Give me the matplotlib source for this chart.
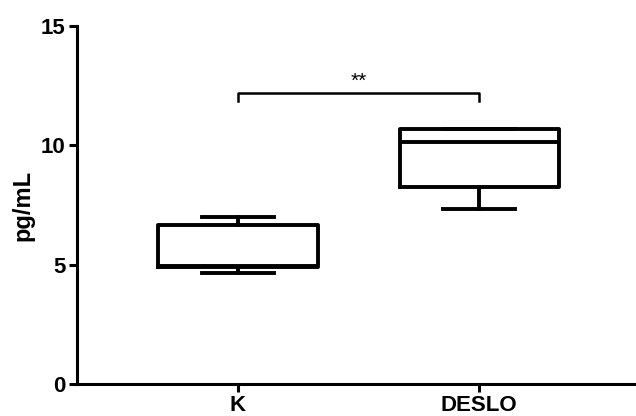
import matplotlib.pyplot as plt

plt.rcParams['font.family'] = ['Liberation Sans', 'DejaVu Sans']

groups = ["K", "DESLO"]
whis_low = [4.66, 7.34]
q1 = [4.89, 8.27]
medians = [4.93, 10.15]
q3 = [6.67, 10.68]
whis_high = [7.01, 10.68]
sig_label = "**"
sig_y = 12.2
sig_drop = 0.33
y_ticks = [0, 5, 10, 15]

stats = []
for i, g in enumerate(groups):
    stats.append({"label": g, "whislo": whis_low[i], "q1": q1[i], "med": medians[i],
                  "q3": q3[i], "whishi": whis_high[i], "fliers": []})

fig = plt.figure(figsize=(6.36, 4.16), dpi=100)
ax = fig.add_axes([0.121, 0.0769, 0.879, 0.8606])

lw = 2.8
ax.bxp(stats, positions=[0, 1], widths=0.66, capwidths=0.3, showfliers=False,
       boxprops=dict(color="black", linewidth=lw),
       medianprops=dict(color="black", linewidth=lw),
       whiskerprops=dict(color="black", linewidth=lw),
       capprops=dict(color="black", linewidth=lw))

# significance bracket
ax.plot([0, 0, 1, 1], [sig_y - sig_drop, sig_y, sig_y, sig_y - sig_drop], color="black", lw=1.8)
ax.text(0.5, sig_y + 0.08, sig_label, ha="center", va="bottom", fontsize=15)

ax.set_xlim(-0.668, 1.65)
ax.set_ylim(0, 15)
ax.set_yticks(y_ticks)
ax.set_xticks([0, 1])
ax.set_xticklabels(groups)
ax.spines["top"].set_visible(False)
ax.spines["right"].set_visible(False)
for s in ["left", "bottom"]:
    ax.spines[s].set_linewidth(2.2)
ax.tick_params(axis="both", length=6, width=2.2, labelsize=16)
ax.tick_params(axis="x", pad=2)
ax.tick_params(axis="y", pad=2)
for lab in ax.get_xticklabels() + ax.get_yticklabels():
    lab.set_fontweight("bold")
ax.set_ylabel("pg/mL", fontsize=17, fontweight="bold", labelpad=5)

fig.savefig("out.png", dpi=100)
